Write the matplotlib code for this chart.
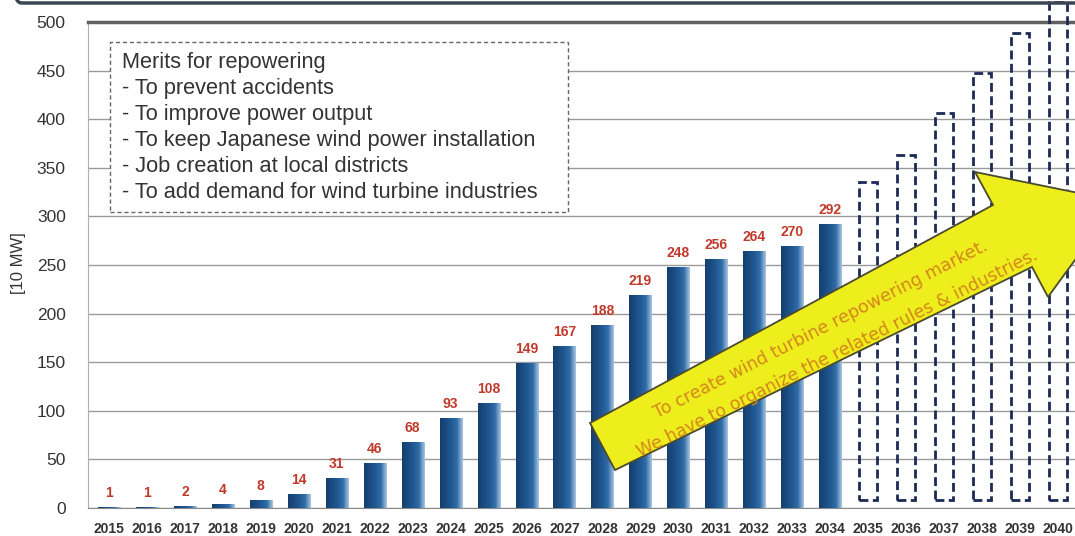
import numpy as np
import matplotlib
matplotlib.use("Agg")
import matplotlib.pyplot as plt
from matplotlib.colors import LinearSegmentedColormap
from matplotlib.patches import Rectangle, Polygon, FancyBboxPatch

plt.rcParams['font.family'] = ['Liberation Sans', 'DejaVu Sans']

# data
years = list(range(2015, 2041))
actual_years = list(range(2015, 2035))
actual_vals = [1, 1, 2, 4, 8, 14, 31, 46, 68, 93, 108, 149, 167, 188, 219,
               248, 256, 264, 270, 292]
future_years = list(range(2035, 2041))
future_vals = [335, 363, 406, 448, 489, 521]

merits = ["Merits for repowering",
          "- To prevent accidents",
          "- To improve power output",
          "- To keep Japanese wind power installation",
          "- Job creation at local districts",
          "- To add demand for wind turbine industries"]
arrow_lines = ["To create wind turbine repowering market.",
               "We have to organize the related rules & industries."]

W, H = 1075, 536
fig = plt.figure(figsize=(W / 100, H / 100), dpi=100)
ax = fig.add_axes([88 / W, 1 - 508 / H, 1 - 88 / W, (508 - 22) / H])


def fx(px):
    return px / W


def fy(py):
    return 1 - py / H


x_act = np.arange(len(actual_years))
x_fut = np.arange(len(actual_years), len(years))

bars = ax.bar(x_act, actual_vals, width=0.58, color='#1f5791',
              edgecolor='#1a3d63', linewidth=0.6, zorder=3)

# gradient fill like the original bars
cmap = LinearSegmentedColormap.from_list(
    'bar', ['#15406d', '#1a4b80', '#215994', '#336ea8', '#a9c6e2'])
grad = np.linspace(0, 1, 64).reshape(1, -1)
for p in bars:
    x0, w, h = p.get_x(), p.get_width(), p.get_height()
    im = ax.imshow(grad, cmap=cmap, aspect='auto', extent=[x0, x0 + w, 0, h],
                   zorder=3.1)
    im.set_clip_path(p)

for xi, v in zip(x_act, actual_vals):
    ax.annotate(str(v), (xi, v), xytext=(0, 5), textcoords='offset points',
                ha='center', va='bottom', fontsize=10, fontweight='bold',
                color='#c0392b', zorder=4)

ax.bar(x_fut, np.array(future_vals) - 8, bottom=8, width=0.48,
       facecolor='none', edgecolor='#1c2a55', linewidth=2.0,
       linestyle=(0, (3.2, 1.6)), zorder=3, clip_on=False)

ax.set_xlim(-0.553, 25.45)
ax.set_ylim(0, 500)
ax.set_yticks(range(0, 501, 50))
ax.set_xticks(np.arange(len(years)))
ax.set_xticklabels([str(y) for y in years], fontsize=10, fontweight='bold',
                   color='#333333')
ax.tick_params(axis='y', length=0, pad=16, labelsize=12.5, labelcolor='#333333')
ax.tick_params(axis='x', length=0, pad=10)
ax.grid(axis='y', color='#9a9a9a', linewidth=1.0, zorder=0)
ax.set_axisbelow(True)
ax.spines['right'].set_visible(False)
ax.spines['top'].set_color('#606060')
ax.spines['top'].set_linewidth(2.5)
ax.spines['left'].set_color('#b0b0b0')
ax.spines['bottom'].set_color('#8a8a8a')

fig.text(fx(18), fy(263), '[10 MW]', rotation=90, ha='center', va='center',
         fontsize=12, color='#333333')

# frame of the slide at the top left
frame = FancyBboxPatch((fx(5), fy(3)), 1.2, 0.3,
                       boxstyle='round,pad=0,rounding_size=0.015',
                       transform=fig.transFigure, facecolor='none',
                       edgecolor='#3a4454', linewidth=2.5, clip_on=True)
fig.add_artist(frame)

# dashed box with merits
box = Rectangle((fx(110), fy(212)), fx(568) - fx(110), fy(42) - fy(212),
                transform=fig.transFigure, facecolor='white',
                edgecolor='#666666', linewidth=1.0, linestyle=(0, (3, 2)))
fig.add_artist(box)
for i, line in enumerate(merits):
    fig.text(fx(122), fy(62 + i * 26.1), line, ha='left', va='center',
             fontsize=15.7, color='#333333')

# yellow arrow
pts = [(590, 423), (993, 205), (975, 172), (1118, 201), (1048, 297),
       (1032, 267), (615, 470)]
arrow = Polygon([(fx(x), fy(y)) for x, y in pts], closed=True,
                transform=fig.transFigure, facecolor='#eeee1c',
                edgecolor='#4a4a30', linewidth=1.3)
fig.add_artist(arrow)
fig.text(fx(821), fy(329), arrow_lines[0], rotation=27, ha='center',
         va='center', rotation_mode='anchor', fontsize=12.5, color='#d4861c',
         family='DejaVu Sans')
fig.text(fx(837), fy(354), arrow_lines[1], rotation=26.5, ha='center',
         va='center', rotation_mode='anchor', fontsize=12.5, color='#d4861c',
         family='DejaVu Sans')

fig.savefig('out.png', dpi=100)
